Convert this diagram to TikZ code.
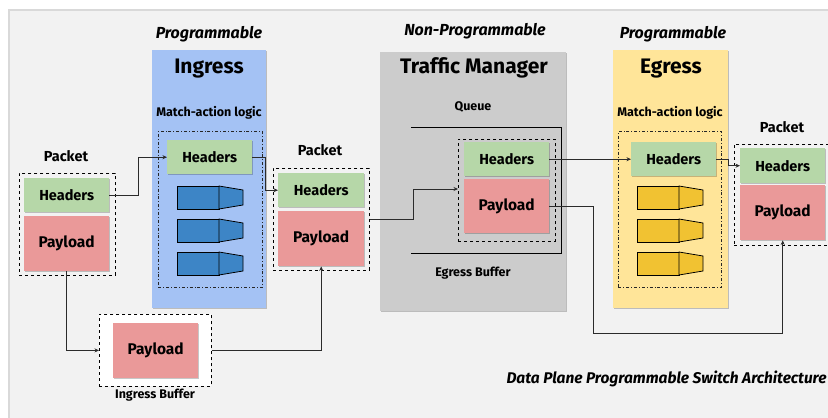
\documentclass[tikz,border=0pt]{standalone}
\usepackage{fontspec}
\setmainfont{Fira Sans}
\usetikzlibrary{arrows.meta,shadows}

\definecolor{bgpanel}{HTML}{F2F2F2}
\definecolor{bgedge}{HTML}{D9D9D9}
\definecolor{hdrgreen}{HTML}{B6D7A8}
\definecolor{payred}{HTML}{EA9999}
\definecolor{ingblue}{HTML}{A4C2F4}
\definecolor{tmgray}{HTML}{CCCCCC}
\definecolor{egyellow}{HTML}{FFE599}
\definecolor{tblblue}{HTML}{3D85C6}
\definecolor{tblyellow}{HTML}{F1C232}
\definecolor{wire}{HTML}{2B2B2B}

\tikzset{
  softshadow/.style={drop shadow={shadow xshift=1pt,shadow yshift=-1.2pt,opacity=0.22,fill=black}},
  part/.style={anchor=north west, inner sep=0pt, softshadow},
  hdr/.style={part, fill=hdrgreen, font=\bfseries\fontsize{14.5}{16}\selectfont},
  pay/.style={part, fill=payred, font=\bfseries\fontsize{15.5}{17}\selectfont},
  frame/.style={anchor=north west, inner sep=0pt, draw=black, dashed, line width=0.8pt},
  malogic/.style={anchor=north west, inner sep=0pt, draw=black!85, line width=0.8pt, dash dot},
  stage/.style={anchor=north west, inner sep=0pt, softshadow},
  title/.style={font=\bfseries\fontsize{21}{24}\selectfont},
  sublabel/.style={font=\bfseries\fontsize{12.5}{14}\selectfont},
  pktlabel/.style={font=\bfseries\fontsize{14.5}{16}\selectfont},
  tag/.style={font=\bfseries\itshape\fontsize{16}{18}\selectfont},
  conn/.style={draw=wire, line width=0.9pt, -{Stealth[length=4.5pt,width=4pt]}},
  bar/.style={draw=black, line width=0.8pt},
}

% one match-action table: a key block followed by a tapering action block
\newcommand{\matable}[3]{%
  \draw[bar, fill=#3] (#1,#2) rectangle ++(42,23);
  \draw[bar, fill=#3] (#1+42,#2) -- ++(24,4) -- ++(0,15) -- ++(-24,4) -- cycle;
}

\begin{document}
\begin{tikzpicture}[x=1pt,y=-1pt]
  \useasboundingbox (0,0) rectangle (828,418);
  \fill[white] (0,0) rectangle (828,418);
  \fill[bgedge] (8,9) rectangle (832,422);
  \fill[bgpanel] (9.5,10.5) rectangle (832,422);

  % ---- stage panels ----
  \node[stage, fill=ingblue, minimum width=114, minimum height=258] (ingress) at (152,50) {};
  \node[stage, fill=tmgray, minimum width=186, minimum height=259] (tm) at (380,52) {};
  \node[stage, fill=egyellow, minimum width=115, minimum height=258] (egress) at (613,50) {};

  \node[tag] (tagin) at (209,34) {Programmable};
  \node[tag] (tagtm) at (475,31) {Non-Programmable};
  \node[tag] (tageg) at (673,34) {Programmable};

  \node[title] (tin) at (209,69) {Ingress};
  \node[title] (ttm) at (474,68) {Traffic Manager};
  \node[title] (teg) at (671,69) {Egress};

  \node[sublabel] (main) at (209,113) {Match-action logic};
  \node[sublabel] (maeg) at (670,113) {Match-action logic};
  \node[sublabel] (queue) at (473,107) {Queue};
  \node[sublabel] (ebuf) at (473,273) {Egress Buffer};

  % ---- match-action blocks ----
  \node[malogic, minimum width=104, minimum height=156] (mai) at (158,131) {};
  \node[malogic, minimum width=103, minimum height=156] (mae) at (618,131) {};
  \node[hdr, minimum width=85, minimum height=34] (ih) at (167,140) {Headers};
  \node[hdr, minimum width=85, minimum height=34] (eh) at (631,142) {Headers};
  \foreach \yy in {186,219,252} {
    \matable{177}{\yy}{tblblue}
    \matable{637}{\yy}{tblyellow}
  }

  % ---- queue outline ----
  \draw[draw=black, line width=0.9pt] (411,127) -- (561,127) -- (561,253) -- (411,253);

  % ---- incoming packet ----
  \node[pktlabel] (lpk) at (66,156) {Packet};
  \node[frame, minimum width=96, minimum height=102] (pk1) at (19,173) {};
  \node[hdr, minimum width=85, minimum height=34] (h1) at (24,178) {Headers};
  \node[pay, minimum width=85, minimum height=55] (p1) at (24,216) {Payload};

  % ---- packet after ingress ----
  \node[pktlabel] (lpk2) at (320,150) {Packet};
  \node[frame, minimum width=96, minimum height=102] (pk2) at (273,168) {};
  \node[hdr, minimum width=86, minimum height=34] (mh) at (278,173) {Headers};
  \node[pay, minimum width=86, minimum height=55] (mp) at (278,211) {Payload};

  % ---- packet in the queue ----
  \node[frame, minimum width=97, minimum height=102] (pk3) at (458,139) {};
  \node[hdr, minimum width=85, minimum height=34] (th) at (464,142) {Headers};
  \node[pay, minimum width=85, minimum height=54] (tp) at (464,179) {Payload};

  % ---- outgoing packet ----
  \node[pktlabel] (lpk4) at (782,127) {Packet};
  \node[frame, minimum width=96, minimum height=101] (pk4) at (734,144) {};
  \node[hdr, minimum width=85, minimum height=35] (rh) at (740,148) {Headers};
  \node[pay, minimum width=85, minimum height=55] (rp) at (740,185) {Payload};

  % ---- ingress buffer ----
  \node[frame, fill=white, minimum width=112, minimum height=72] (ib) at (99,314) {};
  \node[pay, minimum width=85, minimum height=55] (bp) at (113,323) {Payload};
  \node[sublabel] (ibl) at (155,395) {Ingress Buffer};

  % ---- caption ----
  \node[tag, font=\bfseries\itshape\fontsize{15.5}{18}\selectfont, anchor=west] (cap) at (503,379) {Data Plane Programmable Switch Architecture};

  % ---- connectors ----
  \coordinate (low) at (0,333);
  \draw[conn] (h1.east) -- ++(29,0) |- (ih.west);
  \draw[conn] (ih.east) -- ++(13,0) |- (mh.west);
  \draw[conn] (p1.south) |- (ib.west);
  \draw[conn] (ib.east) -| (mp.south);
  \draw[conn] (pk2.east) -- ++(44,0) |- (pk3.west |- 0,189);
  \draw[conn] (th.east) -- (eh.west);
  \draw[conn] (eh.east) -- ++(12,0) |- (rh.west);
  \draw[conn] (tp.east) -- ++(44,0) |- (rp.south |- low) -- (rp.south);
\end{tikzpicture}
\end{document}
